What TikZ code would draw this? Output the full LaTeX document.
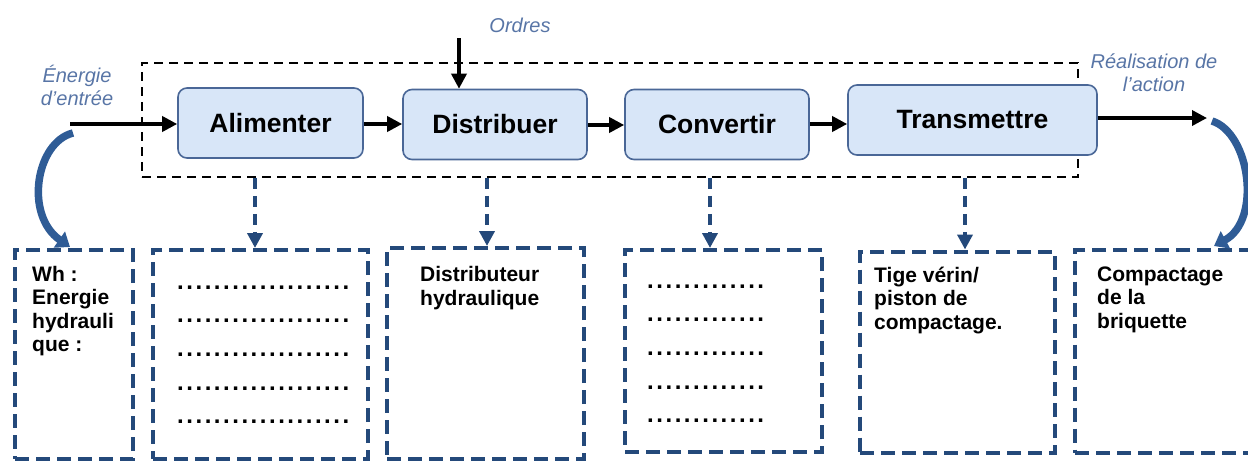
\documentclass[tikz,border=0pt]{standalone}
\usepackage{fontspec}
\setmainfont{Liberation Sans}
\usetikzlibrary{arrows.meta,calc}
\definecolor{dblue}{HTML}{24497A}
\definecolor{cblue}{HTML}{2F5C96}
\definecolor{lblue}{HTML}{5875A6}
\definecolor{bfill}{HTML}{D8E6F8}
\definecolor{bdraw}{HTML}{4A6797}
\begin{document}
\begin{tikzpicture}[x=1pt,y=-1pt,
  frame/.style={draw=black, line width=1.8pt, dash pattern=on 9pt off 6pt, inner sep=0},
  func/.style={draw=bdraw, line width=1.6pt, fill=bfill, rounded corners=9pt, minimum height=70pt, inner sep=0,
    font=\fontsize{26.5}{30}\selectfont\bfseries},
  bbox/.style={draw=dblue, line width=4pt, dash pattern=on 14pt off 7pt, inner sep=0},
  btxt/.style={anchor=north west, align=left, inner sep=0, font=\fontsize{21}{23.5}\selectfont\bfseries},
  dotrow/.style={anchor=base west, inner sep=0, font=\fontsize{24}{28}\selectfont\bfseries\addfontfeature{LetterSpace=10.5}},
  lab/.style={align=center, inner sep=0, text=lblue, font=\fontsize{20}{23}\selectfont\itshape},
  flow/.style={line width=3.5pt, -{Triangle[length=15pt,width=15pt]}},
  conn/.style={draw=dblue, line width=4pt, dash pattern=on 11pt off 7pt, -{Triangle[length=15pt,width=15pt]}},
  curv/.style={draw=cblue, line width=7.5pt, -{Triangle[length=13pt,width=19pt]}}
]
\useasboundingbox (0,0) rectangle (1248,461);
\clip (0,0) rectangle (1248,461);

% outer dashed frame
\node[frame, minimum width=936pt, minimum height=114pt] (frame) at (610,120) {};

% function boxes
\node[func, minimum width=185pt] (a) at (270.5,123) {Alimenter};
\node[func, minimum width=184pt] (d) at (495,124.5) {Distribuer};
\node[func, minimum width=184pt] (c) at (717,124.5) {Convertir};
\node[func, minimum width=249pt] (t) at (972.5,120) {Transmettre};

% labels
\node[lab] (lin) at (77,85.5) {Énergie\\d’entrée};
\node[lab] (lord) at (520,25) {Ordres};
\node[lab] (lout) at (1154,72.5) {Réalisation de\\l’action};

% flow arrows
\coordinate (in) at (70,124);
\coordinate (out) at (1207,118);
\coordinate (ord) at (459,38);
\draw[flow] (in) -- (in -| a.west);
\draw[flow] (a.east |- 0,124) -- (d.west |- 0,124);
\draw[flow] (d.east |- 0,125) -- (c.west |- 0,125);
\draw[flow] (c.east |- 0,124) -- (t.west |- 0,124);
\draw[flow] (t.east |- out) -- (out);
\draw[flow] (ord) -- (ord |- d.north);

% bottom boxes
\node[bbox, minimum width=118pt, minimum height=209pt] (b1) at (74,354.5) {};
\node[bbox, minimum width=215pt, minimum height=209pt] (b2) at (260.5,354.5) {};
\node[bbox, minimum width=197pt, minimum height=211pt] (b3) at (485.5,353.5) {};
\node[bbox, minimum width=197pt, minimum height=202pt] (b4) at (723.5,351) {};
\node[bbox, minimum width=195pt, minimum height=201pt] (b5) at (957.5,352) {};
\node[bbox, minimum width=187pt, minimum height=203pt] (b6) at (1168.5,351) {};

% dashed connectors
\draw[conn] ([xshift=-5.5pt]b2.north |- frame.south) -- ([xshift=-5.5pt]b2.north);
\draw[conn] ([xshift=1.5pt]b3.north |- frame.south) -- ([xshift=1.5pt]b3.north);
\draw[conn] ([xshift=-13.5pt]b4.north |- frame.south) -- ([xshift=-13.5pt]b4.north);
\draw[conn] ([xshift=7.5pt]b5.north |- frame.south) -- ([xshift=7.5pt]b5.north);

% curved arrows
\coordinate (cl1) at (73,133);
\coordinate (cl2) at (70,247);
\coordinate (cr1) at (1212,121);
\coordinate (cr2) at (1214,246);
\draw[curv] (cl1) .. controls (36,142) and (24,215) .. (cl2);
\draw[curv] (cr1) .. controls (1250,133) and (1262,220) .. (cr2);

% texts
\node[btxt] (t1) at (32,266) {Wh :\\Energie\\hydrauli\\que :};
\node[btxt] (t3) at (420,266.5) {Distributeur\\hydraulique};
\node[btxt] (t5) at (874,266.5) {Tige vérin/\\piston de\\compactage.};
\node[btxt] (t6) at (1097,266.5) {Compactage\\de la\\briquette};

\foreach \y [count=\i] in {289,322.5,356,390,423.5} {
  \node[dotrow] (r2\i) at (177,\y) {...................};
  \node[dotrow] (r4\i) at (647,\y-1) {.............};
}
\end{tikzpicture}
\end{document}
